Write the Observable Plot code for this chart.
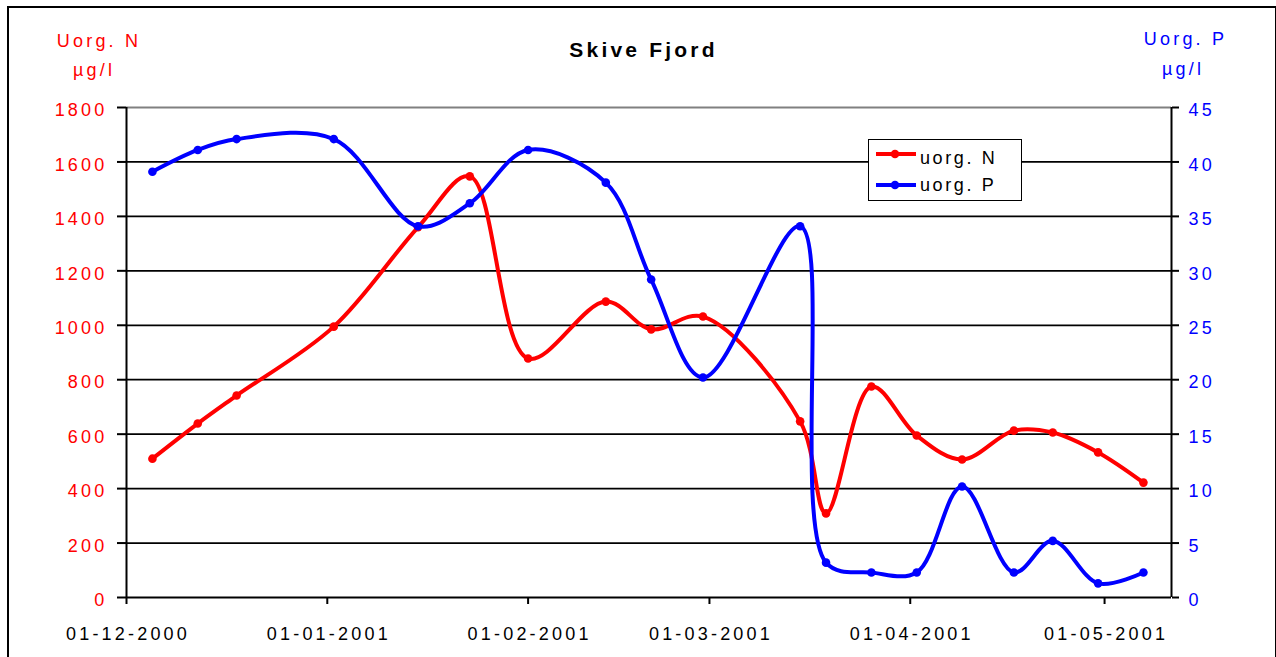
<!DOCTYPE html>
<html>
<head>
<meta charset="utf-8">
<script src="https://cdn.jsdelivr.net/npm/d3@7"></script>
<script src="https://cdn.jsdelivr.net/npm/@observablehq/plot@0.6"></script>
<style>
  html, body { margin: 0; padding: 0; background: #fff; }
  #wrap { position: relative; width: 1276px; height: 657px; overflow: hidden; font-family: "Liberation Sans", Arial, sans-serif; }
  #wrap svg { position: absolute; left: 0; top: 0; }
  #wrap svg text { letter-spacing: 3.2px; }
  #wrap svg g[aria-label="title"] text { letter-spacing: 3.5px; }
  #frame { position: absolute; left: 7px; top: 6px; width: 1266px; height: 700px; border: 2px solid #000; pointer-events: none; }
  #legend { position: absolute; left: 868px; top: 139px; width: 152px; height: 60px; border: 1.5px solid #000; background: #fff; }
  #legend .row { position: absolute; left: 6px; height: 20px; }
  #legend svg { position: absolute; left: 0; top: 0; }
  #legend span { position: absolute; left: 45px; font-size: 18px; letter-spacing: 2.6px; color: #000; white-space: nowrap; }
</style>
</head>
<body>
<div id="wrap">
  <div id="frame"></div>
</div>
<script>
// Sampling dates (same for both series)
const dates = ["2000-12-05","2000-12-12","2000-12-18","2001-01-02","2001-01-15","2001-01-23","2001-02-01",
  "2001-02-13","2001-02-20","2001-02-28","2001-03-15","2001-03-19","2001-03-26","2001-04-02",
  "2001-04-09","2001-04-17","2001-04-23","2001-04-30","2001-05-07"];
// uorg. N (µg/l, left axis)
const uorgN = [510, 639, 742, 995, 1360, 1547, 878, 1087, 985, 1032, 647, 309, 775, 595, 507, 613, 606, 533, 422];
// uorg. P (µg/l, right axis)
const uorgP = [39.1, 41.1, 42.1, 42.1, 34.1, 36.2, 41.1, 38.1, 29.2, 20.2, 34.1, 3.2, 2.3, 2.3, 10.2, 2.3, 5.2, 1.3, 2.3];

const nTicks = [0, 200, 400, 600, 800, 1000, 1200, 1400, 1600, 1800];
const pTicks = [0, 5, 10, 15, 20, 25, 30, 35, 40, 45];
const xTicks = ["2000-12-01", "2001-01-01", "2001-02-01", "2001-03-01", "2001-04-01", "2001-05-01"];
const seriesNames = ["uorg. N", "uorg. P"];
const seriesColors = ["#ff0000", "#0000ff"];
const title = "Skive Fjord";
const leftLabel = ["Uorg. N", "µg/l"];
const rightLabel = ["Uorg. P", "µg/l"];

const PSCALE = 1800 / 45; // right axis 0–45 maps onto left axis 0–1800
const xStart = new Date("2000-12-01");
const xEnd = new Date(Date.UTC(2001, 4, 11, 8));
const fmt = d3.utcFormat("%d-%m-%Y");

const rows = dates.map((d, i) => ({date: new Date(d), N: uorgN[i], P: uorgP[i]}));

const chart = Plot.plot({
  width: 1276,
  height: 657,
  marginLeft: 126,
  marginRight: 105,
  marginTop: 107,
  marginBottom: 60,
  style: {fontFamily: "'Liberation Sans', Arial, sans-serif", fontSize: "18px", background: "transparent", overflow: "visible"},
  x: {type: "utc", domain: [xStart, xEnd]},
  y: {domain: [0, 1800]},
  marks: [
    Plot.ruleY(nTicks.filter(v => v > 0 && v < 1800), {stroke: "#000", strokeWidth: 1.7}),
    Plot.ruleY([1800], {stroke: "#808080", strokeWidth: 2}),
    Plot.ruleX([xStart, xEnd], {stroke: "#000", strokeWidth: 2}),
    Plot.ruleY([0], {stroke: "#000", strokeWidth: 2}),
    // left axis
    Plot.axisY({anchor: "left", ticks: nTicks, tickSize: 9, fill: "none", stroke: "#000", strokeWidth: 2, label: null}),
    Plot.axisY({anchor: "left", ticks: nTicks, tickSize: 0, tickPadding: 19, dy: 3, fill: "#ff0000", tickFormat: d => String(d), label: null}),
    // right axis
    Plot.axisY({anchor: "right", ticks: pTicks.map(v => v * PSCALE), tickSize: 7, fill: "none", stroke: "#000", strokeWidth: 2, label: null}),
    Plot.axisY({anchor: "right", ticks: pTicks.map(v => v * PSCALE), tickSize: 0, tickPadding: 17, dy: 3, fill: "#0000ff", tickFormat: d => String(d / PSCALE), label: null}),
    // x axis
    Plot.axisX({ticks: xTicks.map(d => new Date(d)), tickSize: 7, fill: "none", stroke: "#000", strokeWidth: 2, label: null}),
    Plot.axisX({ticks: xTicks.map(d => new Date(d)), tickSize: 0, tickPadding: 30, dx: 1.5, fill: "#000", tickFormat: fmt, label: null}),
    // series
    Plot.line(rows, {x: "date", y: "N", stroke: seriesColors[0], strokeWidth: 4, curve: "catmull-rom"}),
    Plot.dot(rows, {x: "date", y: "N", r: 4.3, fill: seriesColors[0], stroke: "none"}),
    Plot.line(rows, {x: "date", y: d => d.P * PSCALE, stroke: seriesColors[1], strokeWidth: 4, curve: "catmull-rom"}),
    Plot.dot(rows, {x: "date", y: d => d.P * PSCALE, r: 4.3, fill: seriesColors[1], stroke: "none"}),
    // titles
    Plot.text([title], {frameAnchor: "top", lineAnchor: "middle", dx: -5.5, dy: -57, fontSize: 21, fontWeight: "bold", fill: "#000", ariaLabel: "title"}),
    Plot.text([leftLabel[0]], {frameAnchor: "top-left", lineAnchor: "middle", dx: -27.5, dy: -66.5, textAnchor: "middle", fill: "#ff0000"}),
    Plot.text([leftLabel[1]], {frameAnchor: "top-left", lineAnchor: "middle", dx: -32.5, dy: -36.8, textAnchor: "middle", fill: "#ff0000"}),
    Plot.text([rightLabel[0]], {frameAnchor: "top-right", lineAnchor: "middle", dx: 14, dy: -67.8, textAnchor: "middle", fill: "#0000ff"}),
    Plot.text([rightLabel[1]], {frameAnchor: "top-right", lineAnchor: "middle", dx: 11.5, dy: -37.8, textAnchor: "middle", fill: "#0000ff"})
  ]
});

const wrap = document.getElementById("wrap");
wrap.insertBefore(chart, wrap.firstChild);

// legend
const legend = document.createElement("div");
legend.id = "legend";
seriesNames.forEach((name, i) => {
  const row = document.createElement("div");
  row.className = "row";
  row.style.top = (i === 0 ? 5 : 36) + "px";
  row.innerHTML =
    `<svg width="44" height="20"><line x1="1" x2="41" y1="9" y2="9" stroke="${seriesColors[i]}" stroke-width="4"/>` +
    `<circle cx="20" cy="9" r="4.3" fill="${seriesColors[i]}"/></svg>` +
    `<span style="top:${i === 0 ? 3 : -1}px">${name}</span>`;
  legend.appendChild(row);
});
wrap.appendChild(legend);
</script>
</body>
</html>
